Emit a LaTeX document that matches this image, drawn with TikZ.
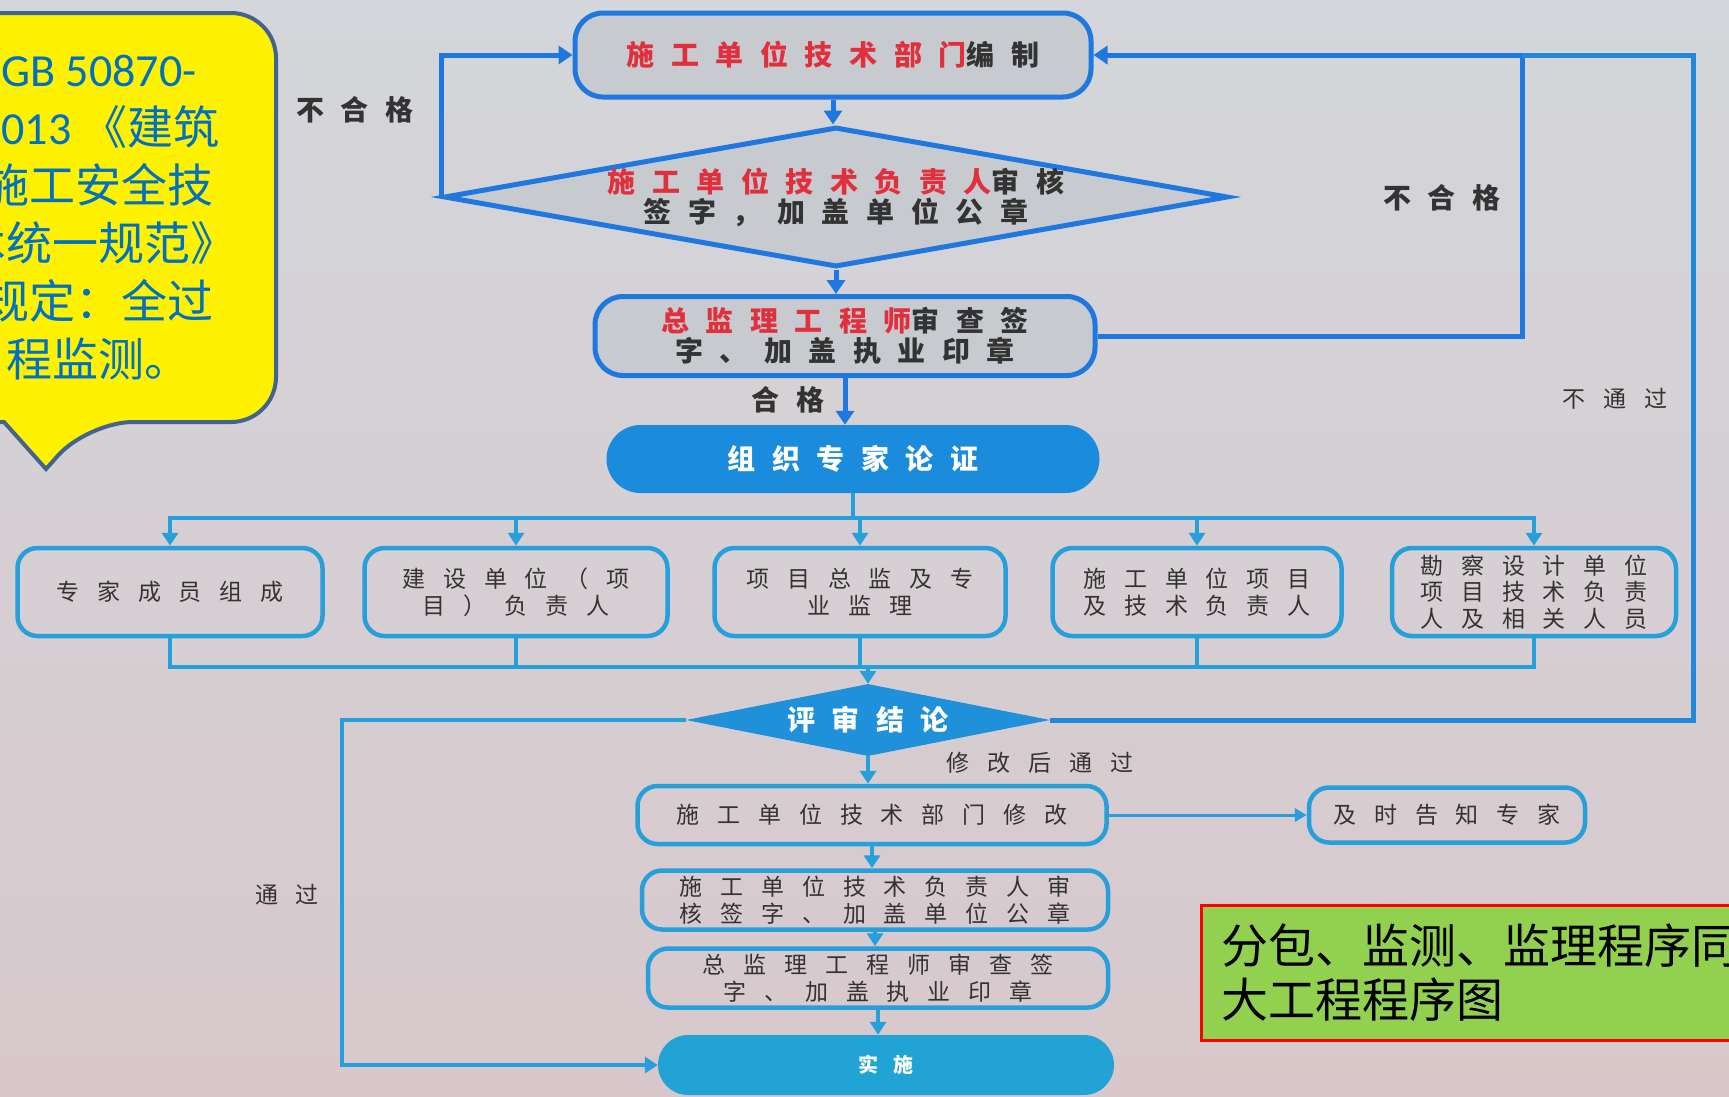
\documentclass[tikz,border=0pt]{standalone}
\usepackage{fontspec}
\setmainfont{Noto Sans CJK SC}
\newfontfamily\cjkfont{Noto Sans CJK SC}
\newfontfamily\latfont{Carlito}
\newfontfamily\hifont[LetterSpace=59]{Noto Sans CJK SC}
\newfontfamily\lofont[LetterSpace=78]{Noto Sans CJK SC}
\usetikzlibrary{arrows.meta,shapes.geometric}

% colours of the photographed screen
\definecolor{screentop}{HTML}{D3D6DA}
\definecolor{screenbot}{HTML}{D8C8CC}
\definecolor{boxgray}{HTML}{C7CACE}
\definecolor{flowblue}{HTML}{1F78DF}
\definecolor{flowfill}{HTML}{1B8BDC}
\definecolor{flowcyan}{HTML}{279FDA}
\definecolor{cyanfill}{HTML}{21A3D5}
\definecolor{loopblue}{HTML}{2189DC}
\definecolor{inktext}{HTML}{333333}
\definecolor{inkred}{HTML}{E0303E}
\definecolor{noteblue}{HTML}{0070C0}
\definecolor{noteedge}{HTML}{43648F}
\definecolor{notegreen}{HTML}{92D050}

\tikzset{
  upfont/.style={font=\hifont\bfseries\fontsize{28}{30}\selectfont},
  lofnt/.style={font=\lofont\fontsize{23}{26.5}\selectfont},
  upbox/.style={draw=flowblue, line width=5pt, fill=boxgray, rounded corners=28pt,
    inner sep=0pt, align=center, text=inktext, upfont},
  updia/.style={draw=flowblue, line width=5pt, fill=boxgray, diamond, inner sep=0pt},
  bluebox/.style={fill=flowfill, rounded corners=34pt, inner sep=0pt, text=white, upfont},
  lobox/.style={draw=flowcyan, line width=4.5pt, rounded corners=20pt, inner sep=0pt,
    align=center, text=inktext, lofnt},
  lodia/.style={fill=flowfill!70!flowcyan, diamond, inner sep=0pt},
  uptext/.style={align=center, text=inktext, upfont},
  flowtag/.style={text=inktext, upfont},
  lotag/.style={text=inktext, lofnt},
  upline/.style={draw=flowblue, line width=5pt},
  uparr/.style={upline, -{Triangle[length=14pt,width=18pt]}},
  loline/.style={draw=flowcyan, line width=4.5pt},
  loarr/.style={loline, -{Triangle[length=13pt,width=16pt]}},
  thinarr/.style={draw=flowcyan, line width=3pt, -{Triangle[length=12pt,width=13pt]}}
}

\begin{document}
\begin{tikzpicture}[x=1pt, y=-1pt]
\useasboundingbox (0,0) rectangle (1729,1096);
\clip (0,0) rectangle (1729,1096);
\shade[top color=screentop, bottom color=screenbot] (0,0) rectangle (1729,1096);

% upper part: compile, check, supervisor
\node[upbox, minimum width=516pt, minimum height=84pt] (compile) at (833,55)
  {{\color{inkred}施工单位技术部门}编制};
\node[updia, minimum width=784pt, minimum height=140pt] (techchk) at (836,197) {};
\node[uptext] (techchktxt) at (techchk)
  {{\color{inkred}施工单位技术负责人}审核\\签字，加盖单位公章};
\node[upbox, minimum width=500pt, minimum height=79pt] (supchk) at (845,336)
  {{\color{inkred}总监理工程师}审查签\\字、加盖执业印章};
\node[bluebox, minimum width=493pt, minimum height=68pt] (expert) at (853,459) {组织专家论证};

% the five parties
\node[lobox, minimum width=305pt, minimum height=88pt] (member) at (170,592) {专家成员组成};
\node[lobox, minimum width=303pt, minimum height=88pt] (owner) at (516,592) {建设单位（项\\目）负责人};
\node[lobox, minimum width=291pt, minimum height=88pt] (superv) at (860,592) {项目总监及专\\业监理};
\node[lobox, minimum width=289pt, minimum height=88pt] (builder) at (1197,592) {施工单位项目\\及技术负责人};
\node[lobox, minimum width=284pt, minimum height=88pt] (design) at (1534,592) {勘察设计单位\\项目技术负责\\人及相关人员};

% lower part
\node[lodia, minimum width=364pt, minimum height=72pt] (verdict) at (868,720) {};
\node[text=white, upfont] (verdicttxt) at (verdict) {评审结论};
\node[lobox, minimum width=469pt, minimum height=58pt] (revise) at (872,815) {施工单位技术部门修改};
\node[lobox, minimum width=276pt, minimum height=55pt] (notify) at (1447,815) {及时告知专家};
\node[lobox, minimum width=466pt, minimum height=59pt] (recheck) at (875,900)
  {施工单位技术负责人审\\核签字、加盖单位公章};
\node[lobox, minimum width=460pt, minimum height=59pt] (resup) at (878,978)
  {总监理工程师审查签\\字、加盖执业印章};
\node[bluebox, fill=cyanfill, minimum width=456pt, minimum height=60pt, rounded corners=30pt,
  font=\lofont\bfseries\fontsize{20}{24}\selectfont] (execute) at (886,1065) {实施};

% branch labels
\node[flowtag] (failL) at (355,110) {不合格};
\node[flowtag] (failR) at (1442,198) {不合格};
\node[flowtag] (passQ) at (788,400) {合格};
\node[lotag] (reject) at (1615,399) {不通过};
\node[lotag] (passA) at (287,895) {通过};
\node[lotag, anchor=west] (passB) at (943,763) {修改后通过};

% upper connectors
\coordinate (loopR) at (1522,55);
\coordinate (loopO) at (1693,55);
\draw[uparr] (compile.south) -- (compile.south |- techchk.north);
\draw[uparr] (techchk.south) -- (techchk.south |- supchk.north);
\draw[uparr] (supchk.south) -- (supchk.south |- expert.north);
\draw[uparr] (techchk.west) |- (compile.west);
\draw[uparr] (supchk.east) -| (loopR) -- (compile.east);
\draw[upline, draw=loopblue] (verdict.east) -| (loopO) -- (loopR);

% buses to and from the parties
\coordinate (busT) at (853,518);
\coordinate (busB) at (868,667);
\draw[loline] (expert.south) -- (busT);
\draw[loline, line cap=rect] (member.north |- busT) -- (design.north |- busT);
\foreach \b in {member,owner,superv,builder,design}
  \draw[loarr] (\b.north |- busT) -- (\b.north);
\foreach \b in {member,owner,superv,builder,design}
  \draw[loline] (\b.south) -- (\b.south |- busB);
\draw[loline, line cap=rect] (member.south |- busB) -- (design.south |- busB);
\draw[loarr] (verdict.north |- busB) -- (verdict.north);

% lower connectors
\coordinate (passL) at (342,720);
\draw[loarr] (verdict.west) -- (passL) |- (execute.west);
\draw[loarr] (verdict.south) -- (verdict.south |- revise.north);
\draw[thinarr] (revise.east) -- (notify.west);
\draw[loarr] (revise.south) -- (revise.south |- recheck.north);
\draw[loarr] (recheck.south) -- (recheck.south |- resup.north);
\draw[loarr] (resup.south) -- (resup.south |- execute.north);

% yellow callout
\draw[fill=yellow, draw=noteedge, line width=4pt] (-78,13) [rounded corners=45pt]
  -- (276,13) -- (276,422) -- (88,422) [sharp corners] -- (46,469) -- (4,422) -- (-78,422) -- cycle;
\node[text=noteblue, align=center, font=\cjkfont\fontsize{46}{58}\selectfont] (gbnote) at (99,218)
  {{\latfont GB 50870-}\\{\latfont 2013 }《建筑\\施工安全技\\术统一规范》\\规定：全过\\程监测。};

% green note
\node[draw=red, line width=2.5pt, fill=notegreen, anchor=north west, align=left,
  minimum height=135pt, inner xsep=20pt, font=\cjkfont\fontsize{47}{54}\selectfont]
  (greennote) at (1200,904) {分包、监测、监理程序同\\大工程程序图};
\end{tikzpicture}
\end{document}
